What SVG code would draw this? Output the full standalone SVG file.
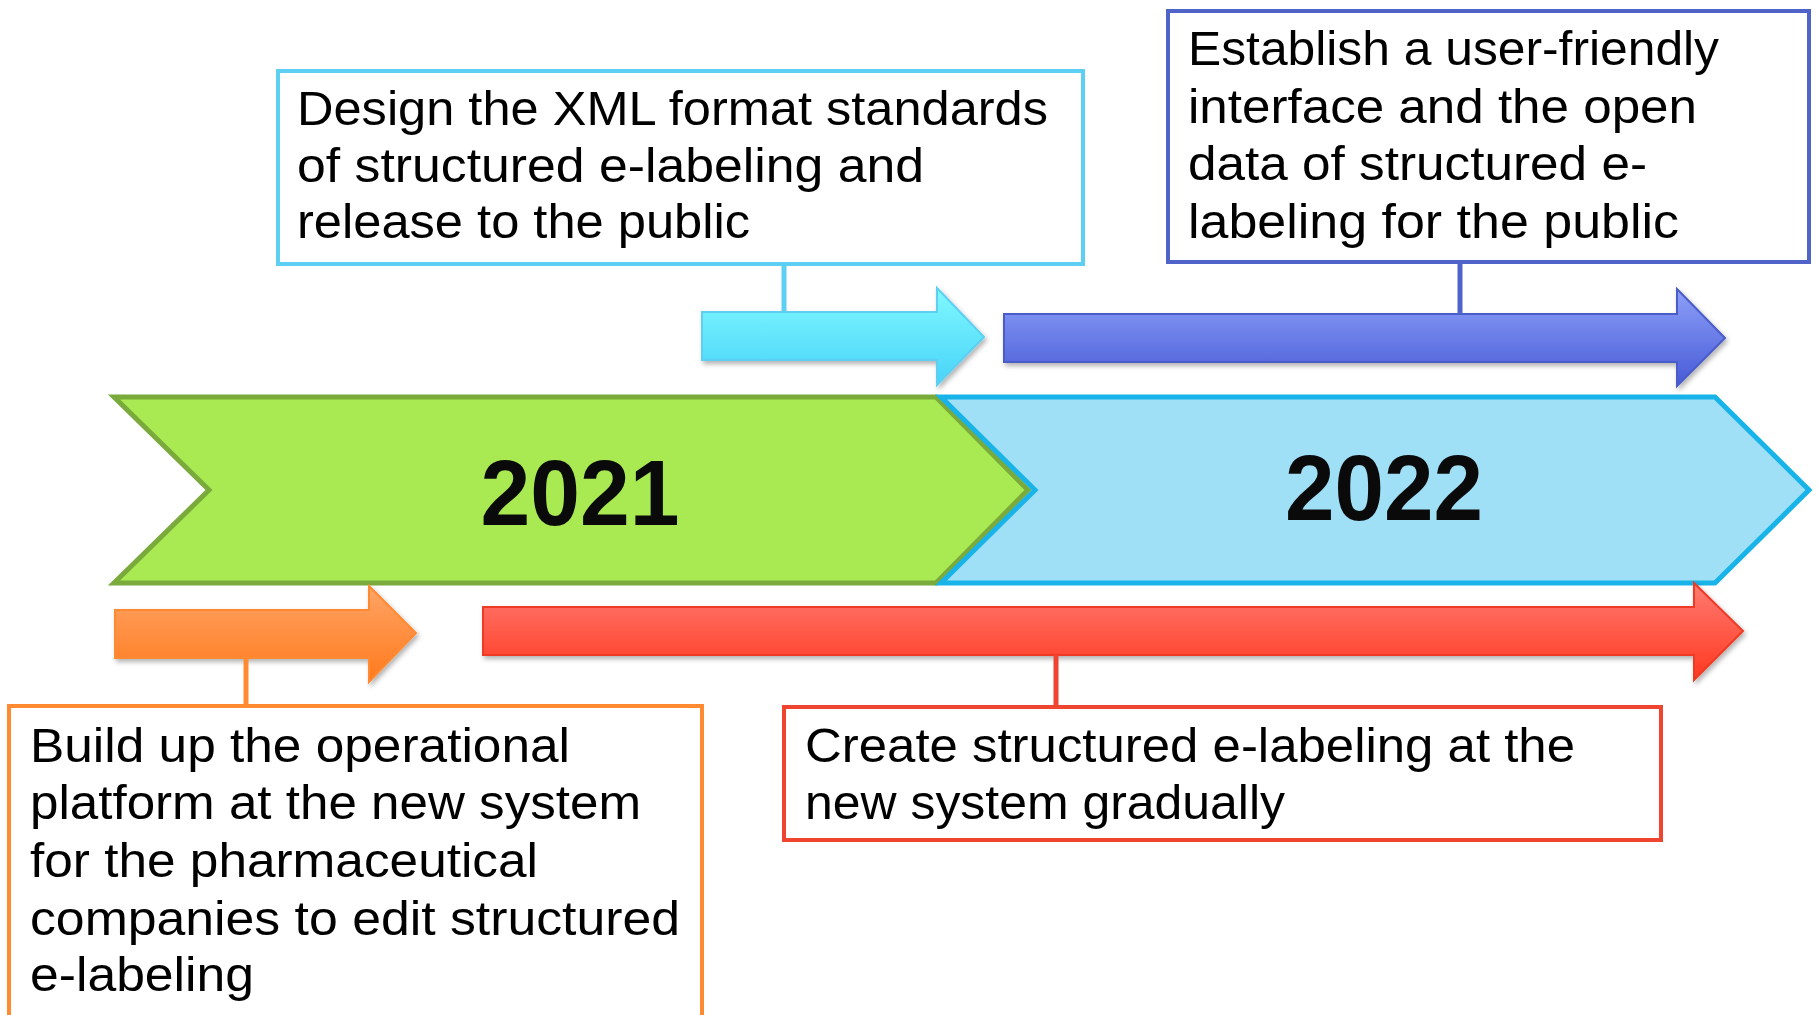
<svg xmlns="http://www.w3.org/2000/svg" width="1817" height="1015" viewBox="0 0 1817 1015">
<defs>
<style>
.t{font-family:"Liberation Sans",Arial,sans-serif;font-size:48px;fill:#000}
.yr{font-family:"Liberation Sans",Arial,sans-serif;font-size:93px;font-weight:bold;fill:#0a0a0a}
.box{fill:#fff;stroke-width:4}
.con{stroke-width:5;fill:none}
</style>
<linearGradient id="gCyan" x1="0" y1="0" x2="0" y2="1"><stop offset="0" stop-color="#80F9FF"/><stop offset="1" stop-color="#48D3F8"/></linearGradient>
<linearGradient id="gBlue" x1="0" y1="0" x2="0" y2="1"><stop offset="0" stop-color="#8DA0F9"/><stop offset="1" stop-color="#475AD6"/></linearGradient>
<linearGradient id="gOrange" x1="0" y1="0" x2="0" y2="1"><stop offset="0" stop-color="#FFA466"/><stop offset="1" stop-color="#FF7A1C"/></linearGradient>
<linearGradient id="gRed" x1="0" y1="0" x2="0" y2="1"><stop offset="0" stop-color="#FF7C72"/><stop offset="1" stop-color="#FF3820"/></linearGradient>
<filter id="sh" x="-5%" y="-20%" width="110%" height="150%"><feDropShadow dx="2" dy="3" stdDeviation="2.5" flood-color="#000" flood-opacity="0.3"/></filter>
</defs>
<rect width="1817" height="1015" fill="#fff"/>

<g id="year2021">
<polygon points="114,397 936,397 1028,490 936,583 114,583 209,490" fill="#A9EA53" stroke="#79AA3B" stroke-width="5" stroke-linejoin="miter"/>
<text class="yr" x="580" y="525" text-anchor="middle" textLength="199" lengthAdjust="spacingAndGlyphs">2021</text>
</g>
<g id="year2022">
<polygon points="941,397 1715,397 1809,490 1715,583 941,583 1035,490" fill="#A0E0F7" stroke="#18B3E8" stroke-width="5" stroke-linejoin="miter"/>
<text class="yr" x="1384" y="520" text-anchor="middle" textLength="198" lengthAdjust="spacingAndGlyphs">2022</text>
</g>

<g id="arrows">
<polygon id="arrowCyan" points="702,312 937,312 937,288 984,337 937,385 937,360 702,360" fill="url(#gCyan)" stroke="#5CCFF3" stroke-width="2" filter="url(#sh)"/>
<polygon id="arrowBlue" points="1004,314 1677,314 1677,289 1725,338 1677,386 1677,362 1004,362" fill="url(#gBlue)" stroke="#4A5CC7" stroke-width="2" filter="url(#sh)"/>
<polygon id="arrowOrange" points="115,610 369,610 369,586 416,633 369,682 369,658 115,658" fill="url(#gOrange)" stroke="#FF8A32" stroke-width="2" filter="url(#sh)"/>
<polygon id="arrowRed" points="483,607 1694,607 1694,583 1743,631 1694,680 1694,655 483,655" fill="url(#gRed)" stroke="#EE3B26" stroke-width="2" filter="url(#sh)"/>
</g>

<g id="connectors">
<line class="con" x1="784" y1="265" x2="784" y2="312" stroke="#5CCFF3"/>
<line class="con" x1="1460" y1="262" x2="1460" y2="314" stroke="#4F63C9"/>
<line class="con" x1="246" y1="658" x2="246" y2="706" stroke="#FF8A32"/>
<line class="con" x1="1056" y1="655" x2="1056" y2="707" stroke="#EE4430"/>
</g>

<g id="boxDesign">
<rect class="box" x="278" y="71" width="805" height="193" stroke="#5CCFF3"/>
<text class="t" x="297" y="125" textLength="751" lengthAdjust="spacingAndGlyphs">Design the XML format standards</text>
<text class="t" x="297" y="182" textLength="627" lengthAdjust="spacingAndGlyphs">of structured e-labeling and</text>
<text class="t" x="297" y="238" textLength="453" lengthAdjust="spacingAndGlyphs">release to the public</text>
</g>

<g id="boxEstablish">
<rect class="box" x="1168" y="11" width="641" height="251" stroke="#4F63C9"/>
<text class="t" x="1188" y="65" textLength="531" lengthAdjust="spacingAndGlyphs">Establish a user-friendly</text>
<text class="t" x="1188" y="123" textLength="509" lengthAdjust="spacingAndGlyphs">interface and the open</text>
<text class="t" x="1188" y="180" textLength="459" lengthAdjust="spacingAndGlyphs">data of structured e-</text>
<text class="t" x="1188" y="238" textLength="491" lengthAdjust="spacingAndGlyphs">labeling for the public</text>
</g>

<g id="boxBuild">
<rect class="box" x="9" y="706" width="693" height="312" stroke="#FF8A32"/>
<text class="t" x="30" y="762" textLength="540" lengthAdjust="spacingAndGlyphs">Build up the operational</text>
<text class="t" x="30" y="819" textLength="611" lengthAdjust="spacingAndGlyphs">platform at the new system</text>
<text class="t" x="30" y="877" textLength="508" lengthAdjust="spacingAndGlyphs">for the pharmaceutical</text>
<text class="t" x="30" y="935" textLength="650" lengthAdjust="spacingAndGlyphs">companies to edit structured</text>
<text class="t" x="30" y="991" textLength="224" lengthAdjust="spacingAndGlyphs">e-labeling</text>
</g>

<g id="boxCreate">
<rect class="box" x="784" y="707" width="877" height="133" stroke="#EE4430"/>
<text class="t" x="805" y="762" textLength="770" lengthAdjust="spacingAndGlyphs">Create structured e-labeling at the</text>
<text class="t" x="805" y="819" textLength="480" lengthAdjust="spacingAndGlyphs">new system gradually</text>
</g>
</svg>
